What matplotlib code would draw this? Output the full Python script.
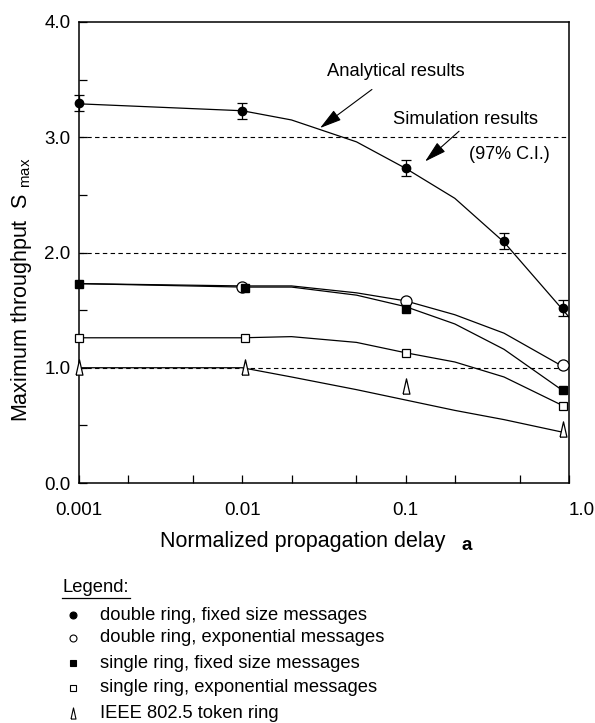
import matplotlib
matplotlib.use("Agg")
import matplotlib.pyplot as plt
from matplotlib.lines import Line2D

plt.rcParams['font.family'] = ['Liberation Sans', 'DejaVu Sans']

# analytical curves (solid lines)
a_anal = [0.001, 0.01, 0.02, 0.05, 0.1, 0.2, 0.4, 0.92]
dbl_fixed_anal = [3.29, 3.23, 3.15, 2.96, 2.73, 2.47, 2.09, 1.50]
dbl_exp_anal = [1.73, 1.71, 1.71, 1.65, 1.58, 1.46, 1.30, 1.01]
sgl_fixed_anal = [1.73, 1.70, 1.70, 1.63, 1.53, 1.38, 1.16, 0.80]
sgl_exp_anal = [1.26, 1.26, 1.27, 1.22, 1.13, 1.05, 0.92, 0.67]
token_anal = [1.00, 1.00, 0.92, 0.81, 0.72, 0.63, 0.55, 0.44]

# simulation results (markers)
a_dbl_fixed = [0.001, 0.01, 0.1, 0.4, 0.92]
dbl_fixed_sim = [3.30, 3.23, 2.73, 2.10, 1.52]
dbl_fixed_ci = [0.07, 0.07, 0.07, 0.07, 0.07]
a_dbl_exp = [0.01, 0.1, 0.92]
dbl_exp_sim = [1.70, 1.58, 1.02]
a_sgl = [0.001, 0.0104, 0.1, 0.92]
sgl_fixed_sim = [1.73, 1.69, 1.51, 0.81]
sgl_exp_sim = [1.26, 1.26, 1.13, 0.67]
token_sim = [1.01, 1.01, 0.84, 0.47]

xticks = [0.001, 0.01, 0.1, 1.0]
xtick_labels = ['0.001', '0.01', '0.1', '1.0']
yticks = [0, 1, 2, 3, 4]
ytick_labels = ['0.0', '1.0', '2.0', '3.0', '4.0']
grid_levels = [1, 2, 3]

legend_items = [
    'double ring, fixed size messages',
    'double ring, exponential messages',
    'single ring, fixed size messages',
    'single ring, exponential messages',
    'IEEE 802.5 token ring',
]

tri = [(-0.45, -1), (0, 1), (0.45, -1), (-0.45, -1)]

fig = plt.figure(figsize=(5.95, 7.23), dpi=100)
ax = fig.add_axes([79/595, 1 - 483/723, 490/595, 461/723])

for lvl in grid_levels:
    ax.axhline(lvl, color='black', lw=0.8, ls=(0, (4, 3)), zorder=1)

for ys in [dbl_fixed_anal, dbl_exp_anal, sgl_fixed_anal, sgl_exp_anal, token_anal]:
    ax.plot(a_anal, ys, color='black', lw=0.9, zorder=2)
# the top curve runs on to the right border
ax.plot([0.92, 1.0], [1.50, 1.44], color='black', lw=0.9, zorder=2)

ax.errorbar(a_dbl_fixed, dbl_fixed_sim, yerr=dbl_fixed_ci, fmt='o', color='black',
            ms=6, capsize=3.5, elinewidth=0.9, capthick=0.9, clip_on=False, zorder=4)
ax.plot(a_dbl_exp, dbl_exp_sim, 'o', mfc='white', mec='black', mew=0.9, ms=8,
        clip_on=False, zorder=4)
ax.plot(a_sgl, sgl_fixed_sim, 's', color='black', ms=5.5, clip_on=False, zorder=5)
ax.plot(a_sgl, sgl_exp_sim, 's', mfc='white', mec='black', mew=0.9, ms=5.5,
        clip_on=False, zorder=4)
ax.plot(a_sgl, token_sim, ls='none', marker=tri, mfc='white', mec='black', mew=0.9,
        ms=11, clip_on=False, zorder=4)

ax.set_xscale('log')
ax.set_xlim(0.001, 1.0)
ax.set_ylim(0, 4)
ax.set_xticks(xticks)
ax.set_xticklabels(xtick_labels, fontsize=13.5)
ax.xaxis.set_minor_locator(matplotlib.ticker.LogLocator(base=10, subs=[2, 5]))
ax.xaxis.set_minor_formatter(matplotlib.ticker.NullFormatter())
ax.set_yticks(yticks)
ax.set_yticklabels(ytick_labels, fontsize=13.5)
ax.set_yticks([0.5, 1.5, 2.5, 3.5], minor=True)
ax.tick_params(which='both', direction='in', width=0.9, length=6)
ax.tick_params(axis='x', pad=14)
ax.tick_params(axis='y', pad=6)
ax.get_xticklabels()[-1].set_horizontalalignment('left')
for s in ax.spines.values():
    s.set_linewidth(1.1)

# y label, sitting a bit below the middle of the axis as in the original
fig.text(22/595, 1 - 290/723, r'Maximum throughput  S $_{\mathregular{max}}$', fontsize=15.5,
         rotation=90, ha='center', va='center')

fig.text(160/595, 1 - 542/723, 'Normalized propagation delay', fontsize=15.5,
         ha='left', va='center')
fig.text(462/595, 1 - 545/723, 'a', fontsize=13.5, fontweight='bold',
         ha='left', va='center')

ax.annotate('Analytical results', xy=(0.0299, 3.08), xytext=(0.0873, 3.57),
            fontsize=13.2, ha='center', va='center',
            arrowprops=dict(arrowstyle='-|>,head_length=0.9,head_width=0.25',
                            color='black', lw=0.8, shrinkA=8, shrinkB=0,
                            mutation_scale=15))
ax.annotate('Simulation results', xy=(0.1315, 2.79), xytext=(0.231, 3.15),
            fontsize=13.2, ha='center', va='center',
            arrowprops=dict(arrowstyle='-|>,head_length=0.9,head_width=0.25',
                            color='black', lw=0.8, shrinkA=0, shrinkB=0,
                            mutation_scale=15, relpos=(0.48, 0)))
ax.text(0.43, 2.85, '(97% C.I.)', fontsize=13, ha='center', va='center')

# legend block below the chart
fig.text(63/595, 1 - 588/723, 'Legend:', fontsize=13.2, ha='left', va='center')
fig.add_artist(Line2D([62/595, 130/595], [1 - 598/723, 1 - 598/723], color='black', lw=0.9))
leg_y = [615, 638, 663, 688, 713]
leg_style = [dict(marker='o', mfc='black', ms=5),
             dict(marker='o', mfc='white', ms=5),
             dict(marker='s', mfc='black', ms=4),
             dict(marker='s', mfc='white', ms=4),
             dict(marker=tri, mfc='white', ms=8)]
for label, yp, st in zip(legend_items, leg_y, leg_style):
    fig.add_artist(Line2D([73/595], [1 - yp/723], ls='none', mec='black', mew=0.8, **st))
    fig.text(100/595, 1 - yp/723, label, fontsize=13.2, ha='left', va='center')

fig.savefig('out.png', dpi=100)
